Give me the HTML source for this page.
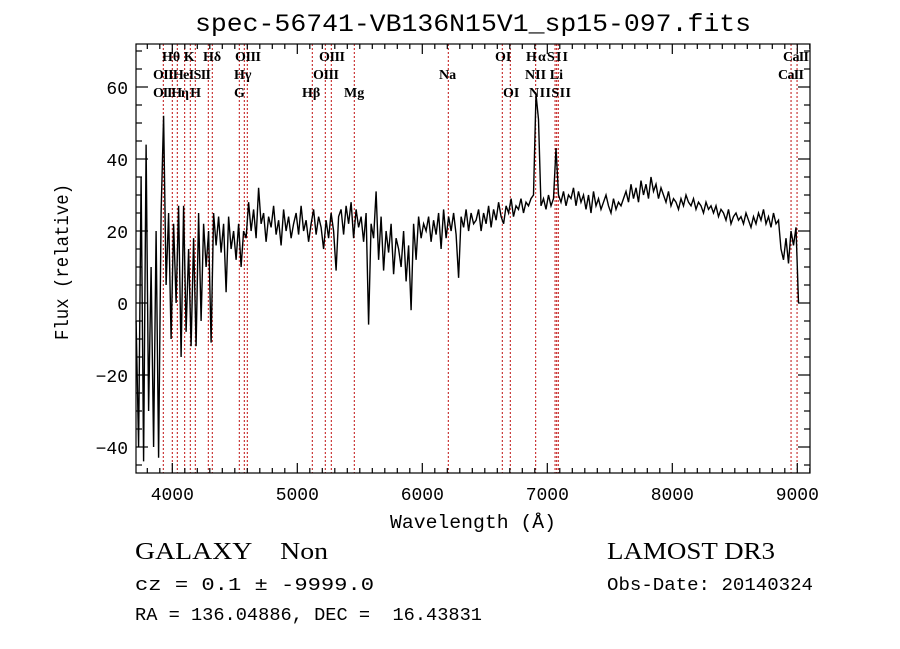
<!DOCTYPE html>
<html><head><meta charset="utf-8"><style>
html,body{margin:0;padding:0;background:#fff;}
svg{display:block;}
text{font-family:"Liberation Serif",serif;fill:#000;}
.m{font-family:"Liberation Mono",monospace;}
</style></head><body>
<svg id="c" width="900" height="649" viewBox="0 0 900 649" xmlns="http://www.w3.org/2000/svg">
<rect width="900" height="649" fill="#fff"/>
<text class="m" x="473" y="31" font-size="25" text-anchor="middle" textLength="556" lengthAdjust="spacingAndGlyphs">spec-56741-VB136N15V1_sp15-097.fits</text>
<g id="lines"></g>
<g id="labels" font-size="14" font-weight="bold">
<text x="162" y="61">Hθ K</text>
<text x="203" y="61">Hδ</text>
<text x="235" y="61" textLength="26">OIII</text>
<text x="319" y="61" textLength="26">OIII</text>
<text x="495" y="61">OI</text>
<text x="526" y="61" textLength="42">HαSII</text>
<text x="783" y="61" textLength="26">CaII</text>
<text x="153" y="79" textLength="58">OIIHeISII</text>
<text x="234" y="79">Hγ</text>
<text x="313" y="79" textLength="26">OIII</text>
<text x="439" y="79">Na</text>
<text x="525" y="79" textLength="38">NII Li</text>
<text x="778" y="79" textLength="26">CaII</text>
<text x="153" y="97" textLength="48">OIIHη H</text>
<text x="234" y="97">G</text>
<text x="302" y="97">Hβ</text>
<text x="344" y="97">Mg</text>
<text x="503" y="97">OI</text>
<text x="529" y="97" textLength="42">NIISII</text>
</g>
<path id="spec" fill="none" stroke="#000" stroke-width="1.4"/>
<rect x="136" y="44" width="674" height="429" fill="none" stroke="#000" stroke-width="1.2"/>
<g id="ticks" stroke="#000" stroke-width="1.2"></g>
<g id="tl"></g>
<text class="m" x="473" y="528" font-size="19" text-anchor="middle" textLength="166" lengthAdjust="spacingAndGlyphs">Wavelength (Å)</text>
<text class="m" transform="translate(68,262) rotate(-90)" font-size="19" text-anchor="middle" textLength="156" lengthAdjust="spacingAndGlyphs">Flux (relative)</text>
<text x="135" y="559" font-size="24" textLength="193" lengthAdjust="spacingAndGlyphs">GALAXY&#160;&#160;&#160;&#160;Non</text>
<text x="607" y="559" font-size="24" textLength="168" lengthAdjust="spacingAndGlyphs">LAMOST DR3</text>
<text class="m" x="135" y="590" font-size="18" textLength="239" lengthAdjust="spacingAndGlyphs">cz = 0.1 ± -9999.0</text>
<text class="m" x="607" y="590" font-size="18" textLength="206" lengthAdjust="spacingAndGlyphs">Obs-Date: 20140324</text>
<text class="m" x="135" y="620" font-size="18" textLength="347" lengthAdjust="spacingAndGlyphs" xml:space="preserve">RA = 136.04886, DEC =  16.43831</text>
</svg>
<script>
const waveStart = 3710;
const waveStep = 20;
const flux = [-5,-40,35,-44,44,-30,10,-40,20,-43,25,52,
5,25,-10,22,0,27,-15,27,-8,15,-12,18,-12,25,-5,22,10,20,
-11,25,16,24,14,22,3,24,15,20,12,22,10,20,18,
28,20,26,18,32,22,25,17,24,21,27,19,23,16,26,20,24,18,22,25,19,27,20,23,17,22,26,19,24,21,
15,23,18,25,20,9,24,26,19,27,22,28,18,26,21,24,17,25,-6,22,
18,31,12,24,9,20,14,22,8,18,15,10,20,6,16,-2,22,12,24,18,22,
20,24,17,23,19,25,15,26,18,24,20,25,19,7,24,21,26,20,25,22,
23,26,20,25,22,27,21,26,23,28,24,22,27,25,29,24,27,26,29,25,28,27,29,30,
58,51,27,29,26,30,27,29,43,30,28,31,27,30,29,32,27,31,28,30,
26,30,25,31,27,29,26,28,30,27,25,29,26,28,27,29,31,28,33,29,32,28,34,30,33,29,35,31,33,29,32,
30,28,31,27,29,28,26,29,27,30,28,27,29,26,28,27,25,28,26,27,25,27,24,26,
25,23,26,22,24,25,23,24,22,25,23,21,24,22,25,23,26,22,24,21,25,22,23,
15,12,18,11,20,16,21,0];
const lineWaves = [3928,4000,4040,4099,4144,4184,4288,4320,4536,4576,4600,5120,5224,5272,5456,6208,6640,6704,6907,7062,7075,7088,8950,8998];
const xTicks = [4000,5000,6000,7000,8000,9000];
const yTicks = [-40,-20,0,20,40,60];
const X0=136,X1=810,Y0=44,Y1=473;
function sx(w){return 172.3+(w-4000)*0.125;}
function sy(v){return 303-v*3.6;}
const NS="http://www.w3.org/2000/svg";
let d="";
flux.forEach((v,i)=>{const x=sx(waveStart+i*waveStep);const y=Math.max(Y0,Math.min(Y1,sy(v)));d+=(i?"L":"M")+x.toFixed(1)+" "+y.toFixed(1);});
document.getElementById("spec").setAttribute("d",d);
const lg=document.getElementById("lines");
lineWaves.forEach(w=>{const l=document.createElementNS(NS,"line");
l.setAttribute("x1",sx(w));l.setAttribute("x2",sx(w));l.setAttribute("y1",Y0);l.setAttribute("y2",Y1);
l.setAttribute("stroke","#c01010");l.setAttribute("stroke-width","1");l.setAttribute("stroke-dasharray","2,2");


lg.appendChild(l);});
const tg=document.getElementById("ticks"),tl=document.getElementById("tl");
function tick(x1,y1,x2,y2){const l=document.createElementNS(NS,"line");l.setAttribute("x1",x1);l.setAttribute("y1",y1);l.setAttribute("x2",x2);l.setAttribute("y2",y2);tg.appendChild(l);}
for(let w=3800;w<=9100;w+=100){const x=sx(w);if(x<X0||x>X1)continue;const maj=w%1000===0;const L=maj?10:5;tick(x,Y1,x,Y1-L);tick(x,Y0,x,Y0+L);}
for(let v=-45;v<=70;v+=5){const y=sy(v);if(y<Y0||y>Y1)continue;const maj=v%20===0;const L=maj?12:6;tick(X0,y,X0+L,y);tick(X1,y,X1-L,y);}
xTicks.forEach(w=>{const t=document.createElementNS(NS,"text");t.setAttribute("x",sx(w));t.setAttribute("y",500);t.setAttribute("font-size","18");t.setAttribute("text-anchor","middle");t.setAttribute("class","m");t.textContent=w;


tl.appendChild(t);});
yTicks.forEach(v=>{const t=document.createElementNS(NS,"text");t.setAttribute("x",128);t.setAttribute("y",sy(v)+7);t.setAttribute("font-size","18");t.setAttribute("text-anchor","end");t.setAttribute("class","m");t.textContent=v<0?"\u2212"+(-v):v;


tl.appendChild(t);});
</script>
</body></html>
